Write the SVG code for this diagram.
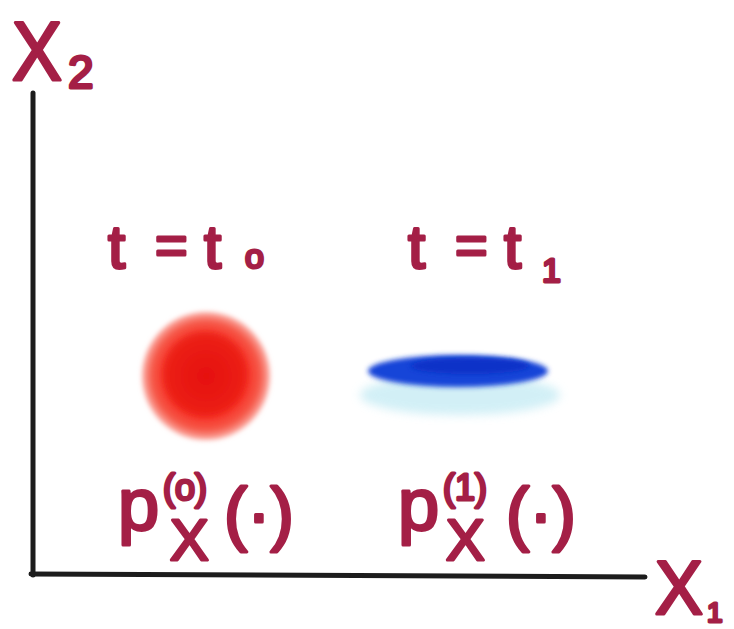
<svg xmlns="http://www.w3.org/2000/svg" width="734" height="629" viewBox="0 0 734 629">
<defs>
<style>
.ink{fill:#a41f46;stroke:#a41f46;stroke-width:3;stroke-linejoin:round;font-family:"Liberation Sans",Arial,sans-serif;font-weight:normal}
.axis{stroke:#1c1c1c;stroke-width:5;fill:none;stroke-linecap:round}
</style>
<radialGradient id="rg" cx="0.5" cy="0.5" r="0.5">
<stop offset="0" stop-color="#e80a10"/>
<stop offset="0.6" stop-color="#f52a20"/>
<stop offset="0.85" stop-color="#f65a4a"/>
<stop offset="1" stop-color="#fbb0a8"/>
</radialGradient>
<filter id="soft" x="-30%" y="-30%" width="160%" height="160%"><feGaussianBlur stdDeviation="2.5"/></filter>
<filter id="soft2" x="-30%" y="-60%" width="160%" height="220%"><feGaussianBlur stdDeviation="5"/></filter>
</defs>
<rect width="734" height="629" fill="#ffffff"/>
<g id="axes">
<path class="axis" d="M33 93 L33 575"/>
<path class="axis" d="M31 574 L645 577"/>
</g>
<g id="label-x2">
<text class="ink" x="12" y="80" font-size="84" textLength="50" lengthAdjust="spacingAndGlyphs">X</text>
<text class="ink" x="68" y="88" font-size="46">2</text>
</g>
<g id="label-x1">
<text class="ink" x="655" y="614" font-size="76" textLength="48" lengthAdjust="spacingAndGlyphs">X</text>
<text class="ink" x="707" y="622" font-size="28">1</text>
</g>
<g id="t0">
<text class="ink" x="108" y="268" font-size="62">t</text>
<text class="ink" x="155" y="264" font-size="56">=</text>
<text class="ink" x="204" y="268" font-size="62">t</text>
<text class="ink" x="245" y="268" font-size="34">o</text>
</g>
<g id="t1">
<text class="ink" x="408" y="268" font-size="62">t</text>
<text class="ink" x="455" y="264" font-size="56">=</text>
<text class="ink" x="504" y="268" font-size="62">t</text>
<text class="ink" x="542" y="282" font-size="34">1</text>
</g>
<g id="red-blob">
<circle cx="206" cy="376" r="64" fill="url(#rg)" filter="url(#soft)"/>
<circle cx="205" cy="374" r="42" fill="#e4140e" opacity="0.5" filter="url(#soft)"/>
</g>
<g id="blue-blob">
<ellipse cx="460" cy="395" rx="100" ry="20" fill="#bfe9f3" opacity="0.7" filter="url(#soft2)"/>
<ellipse cx="458" cy="371" rx="90" ry="16" fill="#1845d8" filter="url(#soft)"/>
<ellipse cx="470" cy="366" rx="60" ry="8" fill="#0a33c8" filter="url(#soft)"/>
</g>
<g id="p0">
<text class="ink" x="118" y="530" font-size="74">p</text>
<text class="ink" x="163" y="500" font-size="36">(o)</text>
<text class="ink" x="170" y="560" font-size="58">X</text>
<text class="ink" x="224" y="537" font-size="70">(·)</text>
</g>
<g id="p1">
<text class="ink" x="398" y="530" font-size="74">p</text>
<text class="ink" x="443" y="500" font-size="36">(1)</text>
<text class="ink" x="446" y="560" font-size="58">X</text>
<text class="ink" x="506" y="537" font-size="70">(·)</text>
</g>
</svg>
